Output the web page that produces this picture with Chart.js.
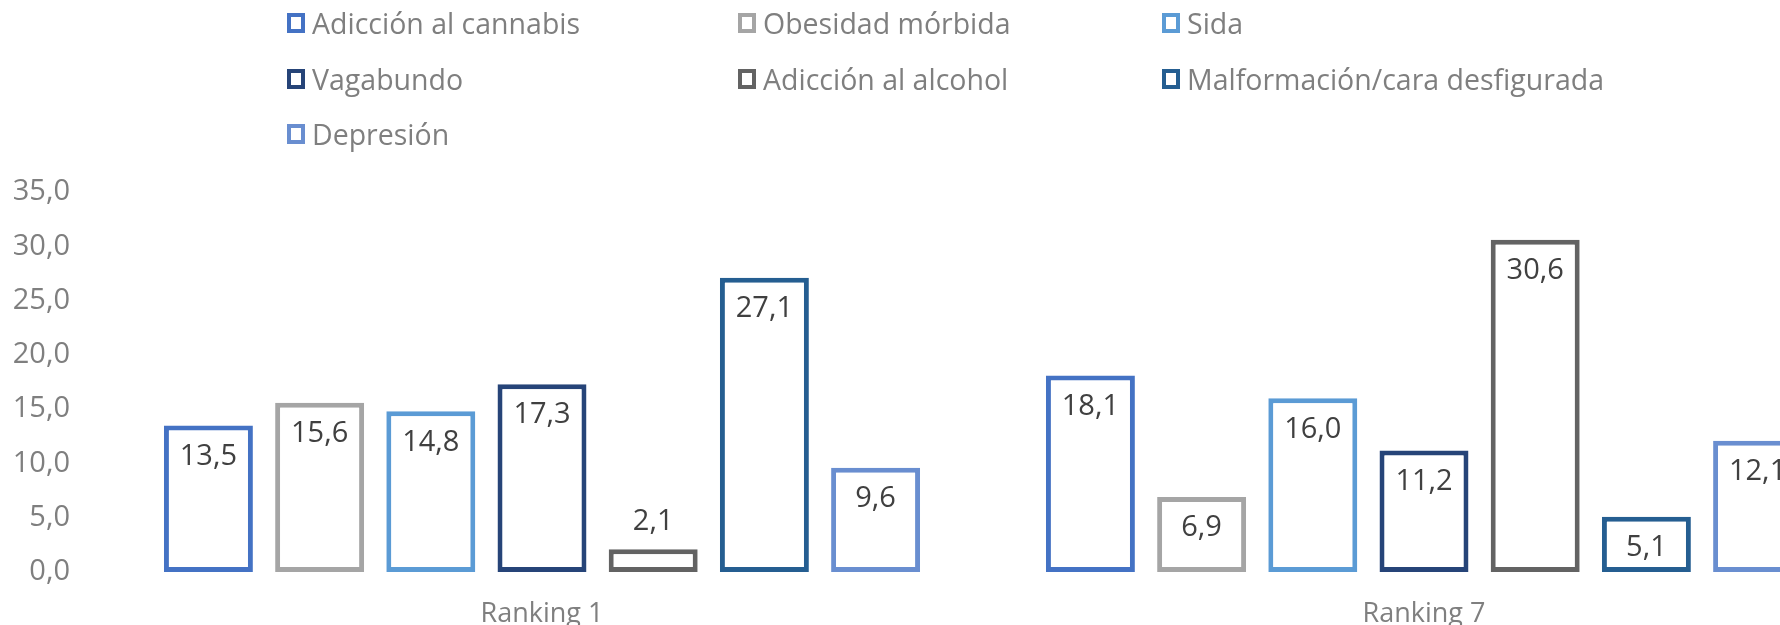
<!DOCTYPE html>
<html>
<head>
<meta charset="utf-8">
<script src="https://cdn.jsdelivr.net/npm/chart.js@4"></script>
<style>
    html, body { margin: 0; padding: 0; background: #fff; overflow: hidden; }
    #wrap { position: relative; width: 1900px; height: 625px; }
    #legend { position: absolute; left: 0; top: 0; width: 1900px; height: 160px; font-family: "Open Sans", sans-serif; font-size: 28.5px; color: #7f7f7f; }
    .lg-item { position: absolute; display: flex; align-items: center; white-space: nowrap; }
    .lg-box { width: 10px; height: 12px; border: 4px solid; background: #fff; margin-right: 7px; }
</style>
</head>
<body>
<div id="wrap">
    <canvas id="chart"></canvas>
    <div id="legend"></div>
</div>
<script>
// ── Data ─────────────────────────────────────────────────────
const categories = ["Ranking 1", "Ranking 7"];
const seriesNames = [
    "Adicción al cannabis", "Obesidad mórbida", "Sida",
    "Vagabundo", "Adicción al alcohol", "Malformación/cara desfigurada",
    "Depresión",
];
const cannabis = [13.5, 18.1];
const obesidad = [15.6, 6.9];
const sida = [14.8, 16.0];
const vagabundo = [17.3, 11.2];
const alcohol = [2.1, 30.6];
const malformacion = [27.1, 5.1];
const depresion = [9.6, 12.1];
const yTicks = [0, 5, 10, 15, 20, 25, 30, 35];

const seriesValues = [cannabis, obesidad, sida, vagabundo, alcohol, malformacion, depresion];
const colors = ["#4472C4", "#A5A5A5", "#5B9BD5", "#264478", "#636363", "#255E91", "#698ED0"];

const fmt = v => v.toFixed(1).replace(".", ",");

// ── Legend (3 columns, like the original) ────────────────────
const legendCols = [287, 738, 1162];
const legendRows = [23, 79, 134];
const legendEl = document.getElementById("legend");
seriesNames.forEach((name, i) => {
    const item = document.createElement("div");
    item.className = "lg-item";
    item.style.left = legendCols[i % 3] + "px";
    item.style.top = (legendRows[Math.floor(i / 3)] - 18) + "px";
    item.style.height = "36px";
    item.innerHTML = `<span class="lg-box" style="border-color:${colors[i]}"></span><span>${name}</span>`;
    legendEl.appendChild(item);
});

// ── Value labels inside / above bars ─────────────────────────
const valueLabels = {
    id: "valueLabels",
    afterDatasetsDraw(chart) {
        const ctx = chart.ctx;
        ctx.save();
        ctx.font = "29px 'Open Sans'";
        ctx.fillStyle = "#404040";
        ctx.textAlign = "center";
        ctx.textBaseline = "middle";
        chart.data.datasets.forEach((ds, di) => {
            chart.getDatasetMeta(di).data.forEach((bar, i) => {
                const h = bar.base - bar.y;
                const y = h > 45 ? bar.y + 31 : bar.y - 27;
                ctx.fillText(fmt(ds.data[i]), bar.x, y);
            });
        });
        ctx.restore();
    },
};

// ── Chart ────────────────────────────────────────────────────
new Chart(document.getElementById("chart"), {
    type: "bar",
    data: {
        labels: categories,
        datasets: seriesNames.map((name, i) => ({
            label: name,
            data: seriesValues[i],
            backgroundColor: "#ffffff",
            borderColor: colors[i],
            borderWidth: 5,
            borderSkipped: false,
            barPercentage: 0.8,
            categoryPercentage: 0.8825,
        })),
    },
    options: {
        responsive: true,
        maintainAspectRatio: false,
        animation: false,
        layout: { padding: { top: 192, right: 35, left: 0, bottom: 0 } },
        plugins: {
            legend: { display: false },
            tooltip: { enabled: false },
        },
        scales: {
            x: {
                afterFit: scale => { scale.height = 53; },
                grid: { display: false, drawTicks: false },
                border: { display: false },
                ticks: {
                    color: "#7f7f7f",
                    padding: 26,
                    font: { family: "Open Sans", size: 27 },
                },
            },
            y: {
                min: 0,
                max: 35,
                afterBuildTicks: scale => { scale.ticks = yTicks.map(v => ({ value: v })); },
                afterFit: scale => { scale.width = 101; },
                grid: { display: false, drawTicks: false },
                border: { display: false },
                ticks: {
                    color: "#7f7f7f",
                    padding: 31,
                    font: { family: "Open Sans", size: 29 },
                    callback: v => fmt(v),
                },
            },
        },
    },
    plugins: [valueLabels],
});
</script>
</body>
</html>
